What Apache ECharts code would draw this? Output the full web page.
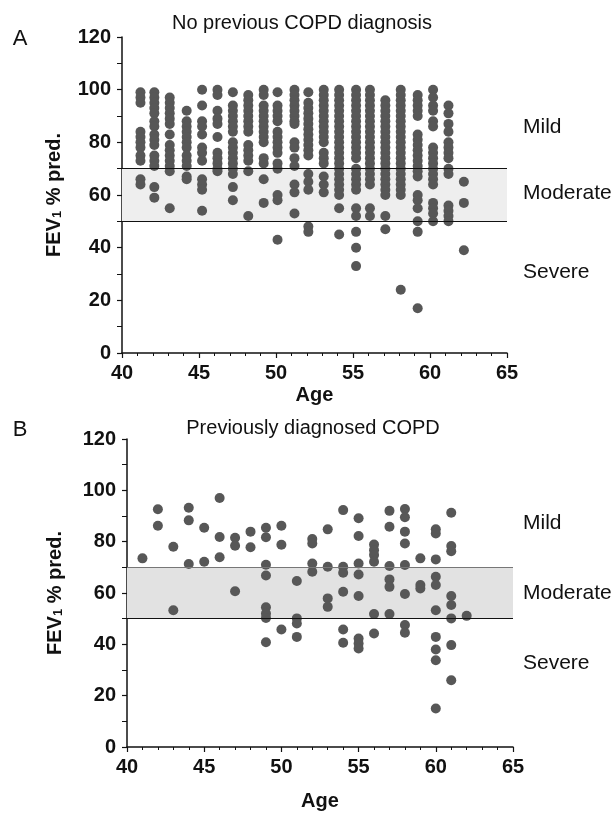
<!DOCTYPE html>
<html>
<head>
<meta charset="utf-8">
<script src="https://cdn.jsdelivr.net/npm/echarts@6/dist/echarts.min.js"></script>
<style>
  html, body { margin: 0; padding: 0; background: #fff; }
  #chart { width: 614px; height: 813px; }
</style>
</head>
<body>
<div id="chart"></div>
<script>
// panel A: no previous COPD diagnosis, one column of FEV1 values per age
const ageA = [41.2, 42.1, 43.1, 44.2, 45.2, 46.2, 47.2, 48.2, 49.2, 50.1, 51.2,
  52.1, 53.1, 54.1, 55.2, 56.1, 57.1, 58.1, 59.2, 60.2, 61.2, 62.2]
const fevA = [
  [99, 97, 95, 84, 82, 80, 78, 75, 73, 66, 64],
  [99, 97, 95, 93, 91, 88, 86, 83, 81, 79, 75, 73, 71, 63, 59],
  [97, 95, 93, 91, 89, 87, 83, 79, 77, 75, 73, 71, 69, 55],
  [92, 88, 86, 84, 82, 80, 78, 75, 73, 71, 67, 66],
  [100, 94, 88, 86, 83, 78, 76, 73, 66, 64, 62, 54],
  [100, 98, 92, 89, 87, 82, 76, 74, 72, 70, 69],
  [99, 94, 92, 90, 88, 86, 84, 80, 78, 76, 74, 72, 70, 68, 63, 58],
  [98, 96, 94, 92, 90, 88, 86, 84, 79, 77, 75, 73, 69, 52],
  [100, 98, 94, 92, 90, 88, 86, 84, 82, 80, 74, 72, 66, 57],
  [99, 94, 92, 90, 88, 84, 82, 80, 78, 76, 72, 70, 60, 58, 43],
  [100, 98, 96, 94, 92, 90, 88, 87, 80, 78, 74, 71, 64, 61, 53],
  [99, 95, 93, 91, 89, 87, 85, 83, 81, 79, 77, 75, 68, 65, 62, 48, 46],
  [100, 98, 96, 94, 92, 90, 88, 86, 84, 82, 80, 76, 74, 72, 67, 64, 61],
  [100, 98, 96, 94, 92, 90, 88, 86, 84, 82, 80, 78, 76, 74, 72, 70, 68, 66, 64, 62, 60, 55, 45],
  [100, 98, 96, 94, 92, 90, 88, 86, 84, 82, 80, 78, 76, 74, 70, 68, 66, 64, 62, 55, 52, 46, 40, 33],
  [100, 98, 96, 94, 92, 90, 88, 86, 84, 82, 80, 78, 76, 74, 72, 70, 68, 66, 64, 55, 52],
  [96, 94, 92, 90, 88, 86, 84, 82, 80, 78, 76, 74, 72, 70, 68, 66, 64, 62, 60, 52, 47],
  [100, 98, 96, 94, 92, 90, 88, 86, 84, 82, 80, 78, 76, 74, 72, 70, 68, 66, 64, 62, 60, 24],
  [98, 96, 94, 92, 90, 83, 81, 79, 77, 75, 73, 71, 69, 67, 60, 58, 55, 50, 46, 17],
  [100, 97, 94, 92, 88, 86, 78, 76, 74, 72, 70, 68, 66, 64, 57, 55, 53, 50],
  [94, 91, 87, 84, 80, 78, 76, 74, 70, 68, 56, 54, 52, 50],
  [65, 57, 39]
]

// panel B: previously diagnosed COPD
const ageB = [41, 42, 43, 44, 45, 46, 47, 48, 49, 50, 51,
  52, 53, 54, 55, 56, 57, 58, 59, 60, 61, 62]
const fevB = [
  [73.5],
  [92.6, 86.2],
  [78, 53.3],
  [93.2, 88.3, 71.3],
  [85.4, 72.2],
  [97, 81.8, 73.9],
  [81.5, 78.4, 60.7],
  [83.9, 77.8],
  [85.4, 81.7, 71, 66.8, 54.4, 52, 50.3, 40.8],
  [86.2, 78.8, 45.8],
  [64.7, 50.1, 48.1, 42.9],
  [81, 79.3, 71.5, 68.3],
  [84.8, 70.2, 57.9, 54.6],
  [92.3, 70.2, 67.9, 60.5, 45.8, 40.6],
  [89.1, 82.2, 71.5, 67.2, 58.8, 42.3, 40.3, 38.4],
  [78.9, 76.7, 74.8, 72.2, 51.8, 44.2],
  [92, 85.8, 70.5, 65.3, 62.4, 51.8],
  [92.7, 89.5, 83.9, 79.3, 70.9, 59.6, 47.5, 44.5],
  [73.5, 63.1, 61.8],
  [84.8, 83.2, 73.1, 66.3, 63.1, 53.3, 42.9, 38, 33.8, 15],
  [91.3, 78.3, 76.3, 58.8, 55.3, 50.1, 39.7, 26],
  [51.1]
]

const xTicks = [40, 45, 50, 55, 60, 65]
const yTicks = [0, 20, 40, 60, 80, 100, 120]
const bandRange = [50, 70]
const severity = [
  { name: 'Mild', yA: 127, yB: 523 },
  { name: 'Moderate', yA: 193, yB: 593 },
  { name: 'Severe', yA: 272, yB: 663 }
]
const titles = ['No previous COPD diagnosis', 'Previously diagnosed COPD']

const font = '"Liberation Sans", Arial, sans-serif'
const dotColor = '#575757'

const toPoints = (ages, values) => ages.flatMap((a, i) => values[i].map(v => [a, v]))

const makeX = (gridIndex, gap) => ({
  type: 'value',
  gridIndex,
  min: xTicks[0],
  max: xTicks[xTicks.length - 1],
  interval: xTicks[1] - xTicks[0],
  name: 'Age',
  nameLocation: 'middle',
  nameGap: gap,
  nameTextStyle: { fontFamily: font, fontSize: 20, fontWeight: 'bold', color: '#111' },
  axisLine: { show: true, lineStyle: { color: '#111', width: 1.5 } },
  axisTick: { show: true, length: 5, lineStyle: { color: '#111', width: 1.2 } },
  minorTick: { show: true, splitNumber: 5, length: 3, lineStyle: { color: '#111', width: 1 } },
  axisLabel: { fontFamily: font, fontSize: 20, fontWeight: 'bold', color: '#111', margin: 10 },
  splitLine: { show: false }
})

const makeY = (gridIndex, gap) => ({
  type: 'value',
  gridIndex,
  min: yTicks[0],
  max: yTicks[yTicks.length - 1],
  interval: yTicks[1] - yTicks[0],
  name: '{a|FEV}{s|1}{a| % pred.}',
  nameLocation: 'middle',
  nameRotate: 90,
  nameGap: gap,
  nameTextStyle: {
    color: '#111',
    rich: {
      a: { fontFamily: font, fontSize: 20, fontWeight: 'bold', color: '#111' },
      s: { fontFamily: font, fontSize: 13, fontWeight: 'bold', color: '#111', verticalAlign: 'bottom' }
    }
  },
  axisLine: { show: true, lineStyle: { color: '#111', width: 1.5 } },
  axisTick: { show: true, length: 5, lineStyle: { color: '#111', width: 1.2 } },
  minorTick: { show: true, splitNumber: 2, length: 5, lineStyle: { color: '#111', width: 1 } },
  axisLabel: { fontFamily: font, fontSize: 20, fontWeight: 'bold', color: '#111', margin: 11 },
  splitLine: { show: false }
})

const makeSeries = (index, points, fill, topLine) => ({
  type: 'scatter',
  xAxisIndex: index,
  yAxisIndex: index,
  data: points,
  symbol: 'circle',
  symbolSize: 10,
  itemStyle: { color: dotColor, opacity: 1 },
  silent: true,
  markArea: {
    silent: true,
    itemStyle: { color: fill },
    data: [[{ yAxis: bandRange[0] }, { yAxis: bandRange[1] }]]
  },
  markLine: {
    silent: true,
    symbol: 'none',
    label: { show: false },
    data: [
      { yAxis: bandRange[0], lineStyle: { color: '#111', width: 1.2, type: 'solid' } },
      { yAxis: bandRange[1], lineStyle: { color: topLine, width: 1.2, type: 'solid' } }
    ]
  }
})

const textEl = (text, x, y, size, align, weight) => ({
  type: 'text',
  x,
  y,
  silent: true,
  style: {
    text,
    fill: '#111',
    fontFamily: font,
    fontSize: size,
    fontWeight: weight || 'normal',
    align: align,
    verticalAlign: 'middle'
  }
})

const chart = echarts.init(document.getElementById('chart'), null, { renderer: 'canvas' })

chart.setOption({
  animation: false,
  backgroundColor: '#fff',
  grid: [
    { left: 122, top: 37, width: 385, height: 316 },
    { left: 127, top: 439, width: 386, height: 308 }
  ],
  xAxis: [makeX(0, 32), makeX(1, 44)],
  yAxis: [makeY(0, 58), makeY(1, 62)],
  series: [
    makeSeries(0, toPoints(ageA, fevA), '#eeeeee', '#111'),
    makeSeries(1, toPoints(ageB, fevB), '#e2e2e2', '#777')
  ],
  graphic: [
    textEl('A', 20, 39, 22, 'center'),
    textEl('B', 20, 430, 22, 'center'),
    textEl(titles[0], 302, 23, 20, 'center'),
    textEl(titles[1], 313, 428, 20, 'center'),
    ...severity.map(s => textEl(s.name, 523, s.yA, 21, 'left')),
    ...severity.map(s => textEl(s.name, 523, s.yB, 21, 'left'))
  ]
})
</script>
</body>
</html>
